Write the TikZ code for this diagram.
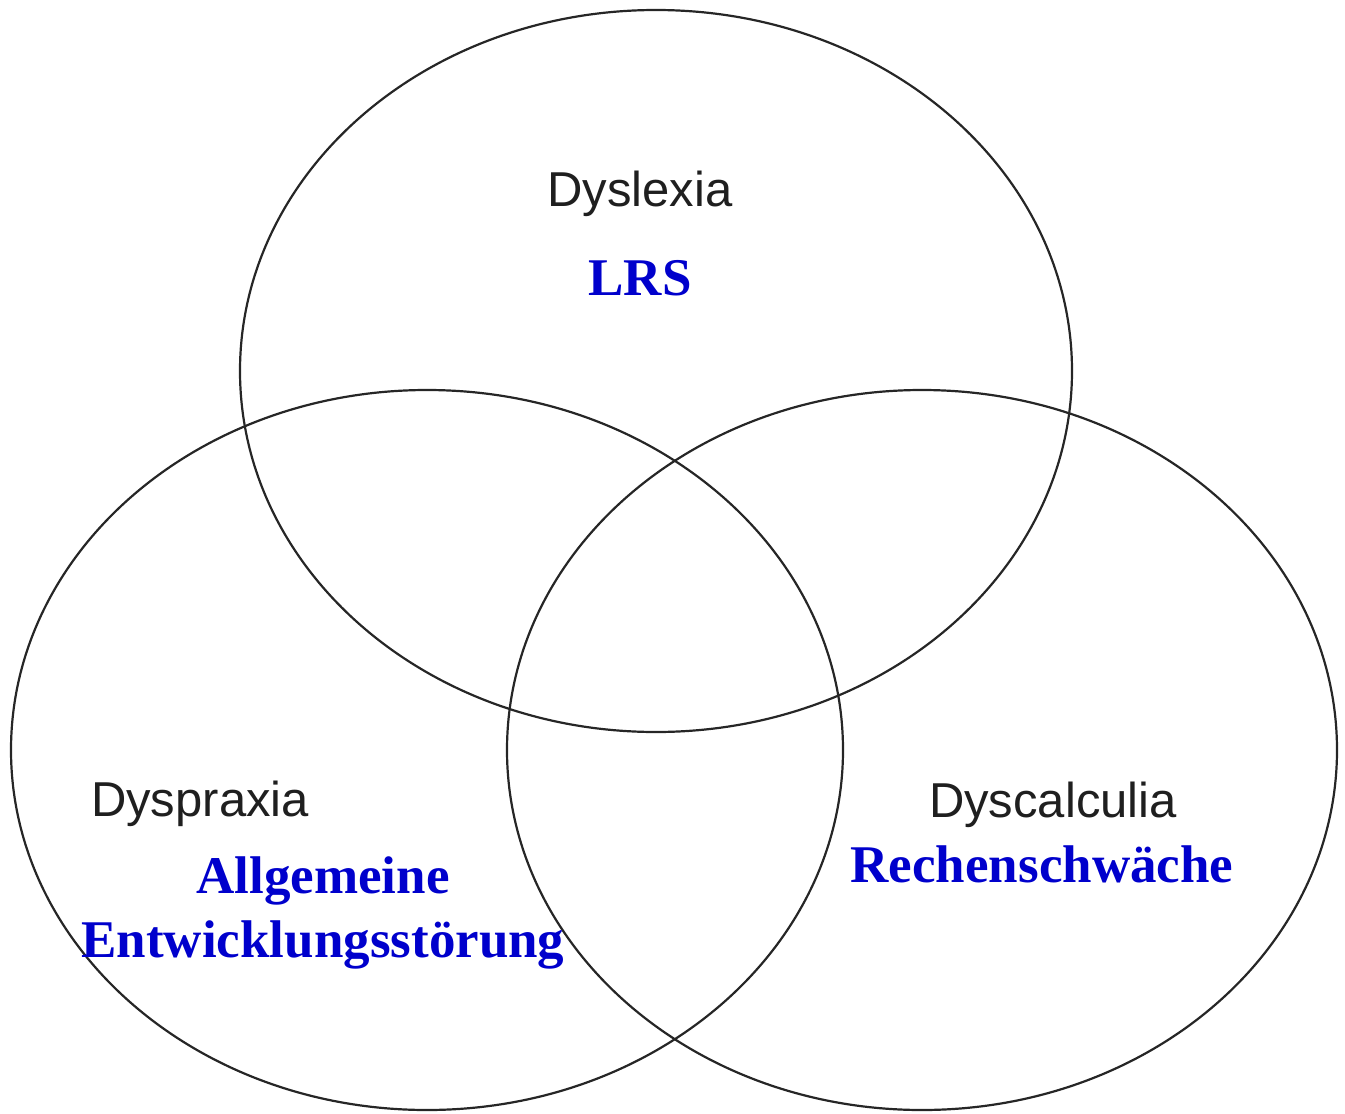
\documentclass[tikz,border=0pt]{standalone}
\usepackage{fontspec}
\setmainfont{Liberation Serif}
\setsansfont{Liberation Sans}
\usepackage{xcolor}
\usepackage{tikz}
\usetikzlibrary{positioning}

\begin{document}
\begin{tikzpicture}[
      x=1pt, y=-1pt,
      venn/.style={draw={black!85}, line width=2.2pt},
      english/.style={font=\sffamily\fontsize{49}{59}\selectfont, text={black!88}, inner sep=0pt, anchor=base},
      german/.style={font=\bfseries\fontsize{53}{64}\selectfont, text={rgb,255:red,0;green,0;blue,204}, inner sep=0pt, anchor=base, align=center}
      ]
      \useasboundingbox (0,0) rectangle (1345,1114);

      \coordinate (lex) at (656,371);
      \coordinate (prax) at (427,750);
      \coordinate (calc) at (922,750);

      \draw[venn] (lex) ellipse [x radius=416pt, y radius=361pt];
      \draw[venn] (prax) ellipse [x radius=416pt, y radius=360pt];
      \draw[venn] (calc) ellipse [x radius=415pt, y radius=360pt];

      \node[english] (dyslexia) at (640,206) {Dyslexia};
      \node[german] (lrs) at (640,295) {LRS};

      \node[english] (dyspraxia) at (200,816) {Dyspraxia};
      \node[german] (allg) at (323,957) {Allgemeine\\Entwicklungsstörung};

      \node[english] (dyscalc) at (1053,817) {Dyscalculia};
      \node[german] (rechen) at (1042,882) {Rechenschwäche};
\end{tikzpicture}
\end{document}
